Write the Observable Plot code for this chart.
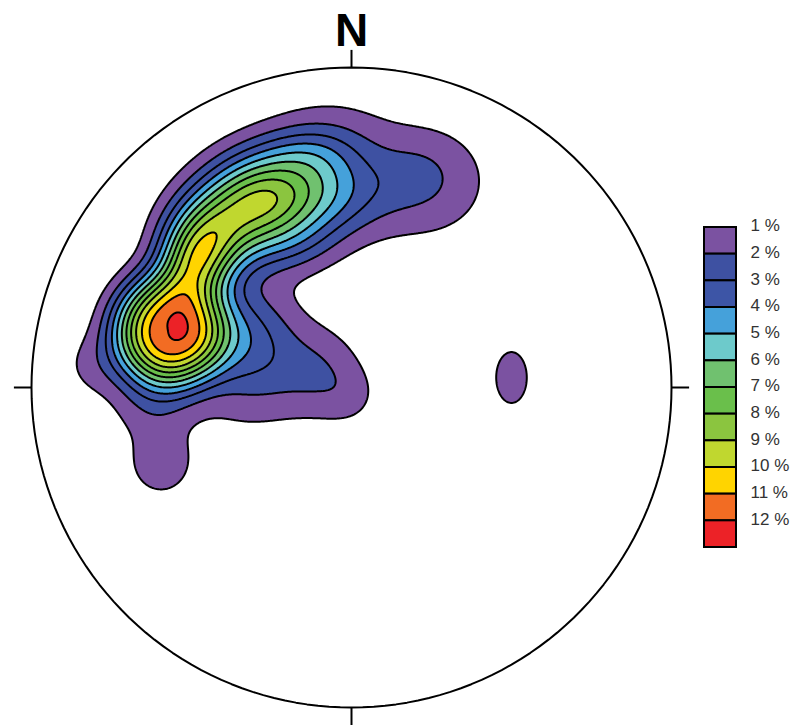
<!DOCTYPE html>
<html><head><meta charset="utf-8">
<script src="https://cdn.jsdelivr.net/npm/d3@7"></script>
<script src="https://cdn.jsdelivr.net/npm/@observablehq/plot@0.6"></script>
<style>
body{margin:0;background:#fff;}
#wrap{position:relative;width:792px;height:725px;font-family:"Liberation Sans",Arial,sans-serif;}
#main{position:absolute;left:0;top:0;}
#legend{position:absolute;left:700px;top:215px;}
</style></head><body>
<div id="wrap"><div id="main"></div><div id="legend"></div></div>
<script>
// contour levels (% of poles per 1% area) and their fill colours
const levels = [1, 2, 3, 4, 5, 6, 7, 8, 9, 10, 11, 12];
const levelColors = ["#7b52a1", "#3e51a2", "#3d55a6", "#45a1da", "#6dcacb", "#70c16f",
                     "#6abf4b", "#8bc53f", "#c0d72f", "#ffd400", "#f26c23", "#ec2227"];

// pole-density clusters read from the net (x east, y north, net radius = 1)
const clusterX       = [-0.569, -0.331, -0.425, -0.497, -0.472, -0.447, -0.403, -0.341, -0.278, -0.209, -0.141, -0.072, -0.003, 0.066, 0.134, -0.128, -0.191, 0.216, 0.278, -0.103, 0.003, -0.300, -0.628, -0.597, -0.809, 0.500, -0.066];
const clusterY       = [ 0.178,  0.163,  0.084,  0.372,  0.434,  0.488,  0.534,  0.569,  0.588,  0.600,  0.609,  0.616,  0.622, 0.628, 0.638,  0.734,  0.444, 0.663, 0.631,  0.047, -0.034, 0.006, -0.056, -0.247,  0.069, 0.031,  0.819];
const clusterPeak    = [ 11.1,   2.5,    0.8,    3.5,    3.7,    2.8,    1.5,    1.9,    3.2,    2.35,   1.6,    1.2,    0.45,  0.2,   0.12,   1.5,    1.3,   1.0,   1.0,    1.65,  0.7,    0.7,    1.2,    1.5,    1.0,   1.5,    0.9];
const clusterSpreadX = [ 0.131,  0.106,  0.219,  0.075,  0.088,  0.094,  0.100,  0.106,  0.106,  0.138,  0.138,  0.138,  0.138, 0.138, 0.125,  0.109,  0.109, 0.100, 0.172,  0.100, 0.069,  0.100,  0.088,  0.069,  0.075, 0.053,  0.141];
const clusterSpreadY = [ 0.131,  0.106,  0.219,  0.075,  0.088,  0.094,  0.100,  0.106,  0.106,  0.100,  0.100,  0.100,  0.100, 0.100, 0.125,  0.063,  0.069, 0.088, 0.172,  0.100, 0.069,  0.100,  0.088,  0.069,  0.075, 0.088,  0.088];
const clusterShape   = [ 2.7,    2,      2,      2,      2,      2,      2,      2,      2,      2,      2,      2,      2,     2,     2,      2,      2,     2,     2,      2,     2,      2,      2,      2,      2,     2,      2];

// cardinal ticks of the net
const cardinalAngles = [0, 90, 180, 270];
const cardinalNames  = ["N", "", "", ""];

function density(x, y) {
  let v = 0;
  for (let i = 0; i < clusterX.length; i++) {
    const dx = (x - clusterX[i]) / clusterSpreadX[i];
    const dy = (y - clusterY[i]) / clusterSpreadY[i];
    v += clusterPeak[i] * Math.exp(-0.5 * Math.pow(dx * dx + dy * dy, clusterShape[i] / 2));
  }
  return v;
}

const rad = a => a * Math.PI / 180;
const rim = d3.range(0, 361, 2);

const main = Plot.plot({
  width: 792, height: 725, margin: 0,
  x: {domain: [-351 / 320, 441 / 320], axis: null},
  y: {domain: [-338 / 320, 387 / 320], axis: null},
  color: {type: "ordinal", domain: levels, range: levelColors},
  marks: [
    Plot.contour({x1: -1, x2: 1, y1: -1, y2: 1, fill: density, thresholds: levels,
                  stroke: "black", strokeWidth: 2, pixelSize: 1}),
    Plot.line(rim, {x: a => Math.sin(rad(a)), y: a => Math.cos(rad(a)), stroke: "black", strokeWidth: 2}),
    Plot.link(cardinalAngles, {x1: a => Math.sin(rad(a)), y1: a => Math.cos(rad(a)),
                               x2: a => 1.055 * Math.sin(rad(a)), y2: a => 1.055 * Math.cos(rad(a)),
                               stroke: "black", strokeWidth: 2}),
    Plot.text(cardinalAngles, {x: a => 1.112 * Math.sin(rad(a)), y: a => 1.112 * Math.cos(rad(a)),
                               text: (a, i) => cardinalNames[i], fontSize: 46, fontWeight: "bold",
                               fill: "black", fontFamily: "Liberation Sans, Arial, sans-serif"})
  ]
});
document.getElementById("main").appendChild(main);

const legend = Plot.plot({
  width: 92, height: 340, marginTop: 12, marginBottom: 8, marginLeft: 4, marginRight: 56,
  x: {domain: ["swatch"], axis: null, padding: 0, round: false},
  y: {domain: levels, axis: null, padding: 0, round: false},
  color: {type: "ordinal", domain: levels, range: levelColors},
  marks: [
    Plot.cell(levels, {x: () => "swatch", y: d => d, fill: d => d, stroke: "black", strokeWidth: 2, inset: 0}),
    Plot.text(levels, {x: () => "swatch", y: d => d, text: d => d + " %", dx: 30, dy: -15,
                       textAnchor: "start", fontSize: 17, fill: "#333",
                       fontFamily: "Liberation Sans, Arial, sans-serif"})
  ]
});
document.getElementById("legend").appendChild(legend);
</script>
</body></html>
